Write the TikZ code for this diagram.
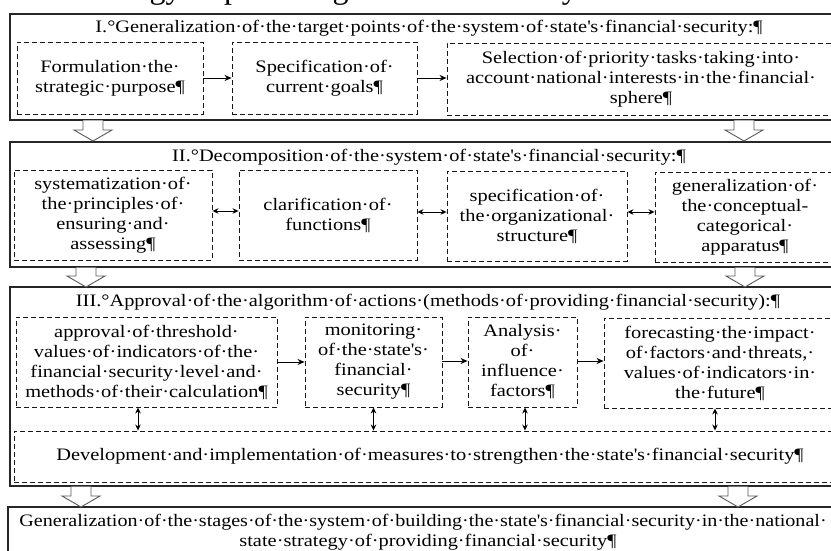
\documentclass[tikz,border=0pt]{standalone}
\usepackage{fontspec}
\usepackage{graphicx}
\setmainfont{Liberation Serif}[FakeStretch=1.165]
\newfontfamily\headfont{Liberation Serif}
\usetikzlibrary{arrows.meta}
\newcommand\qs{\textquotesingle}
\tikzset{
  txt/.style={font=\fontsize{17.5}{20}\selectfont, align=center, inner sep=0pt, text=black},
  outerbox/.style={draw=black!85, line width=1.2pt},
  dbox/.style={txt, draw=black!90, line width=0.9pt, dash pattern=on 5pt off 3pt},
  arr/.style={-{Stealth[length=7pt,width=6pt]}, line width=0.9pt},
  darr/.style={{Stealth[length=6pt,width=5.5pt]}-{Stealth[length=6pt,width=5.5pt]}, line width=0.9pt},
  blk/.style={draw=black!65, fill=white, line width=0.9pt, line join=miter},
}
\newcommand\blockarrow[3]{%
  \fill[white] (#1-10,#2) -- (#1-10,#3-11) -- (#1-19,#3-11) -- (#1,#3) -- (#1+19,#3-11) -- (#1+10,#3-11) -- (#1+10,#2) -- cycle;
  \draw[blk, fill=none] (#1-10,#2) -- (#1-10,#3-11) -- (#1-19,#3-11) -- (#1,#3) -- (#1+19,#3-11) -- (#1+10,#3-11) -- (#1+10,#2);
}
\begin{document}
\begin{tikzpicture}[x=1pt,y=-1pt]
\useasboundingbox (0,0) rectangle (831,551);
\fill[white] (0,0) rectangle (831,551);
\begin{scope}
\clip (0,0) rectangle (831,551);
% cut-off heading above the picture
\node[anchor=base west, inner sep=0pt, font=\headfont\fontsize{32}{38}\selectfont] (head) at (80,-1.5) {strategy of providing financial security};

% outer frames
\node[outerbox, minimum width=838pt, minimum height=106pt] (S1) at (429,67) {};
\node[outerbox, minimum width=838pt, minimum height=125pt] (S2) at (429,204.5) {};
\node[outerbox, minimum width=838pt, minimum height=199pt] (S3) at (429,386.5) {};
\node[outerbox, minimum width=840pt, minimum height=68pt] (S4) at (428,541) {};

% titles
\node[txt] (T1) at (429,28) {I.°Generalization·of·the·target·points·of·the·system·of·state\qs s·financial·security:¶};
\node[txt] (T2) at (429,157) {II.°Decomposition·of·the·system·of·state\qs s·financial·security:¶};
\node[txt] (T3) at (428,302) {III.°Approval·of·the·algorithm·of·actions·(methods·of·providing·financial·security):¶};

% stage I
\node[dbox, minimum width=186pt, minimum height=72pt] (A) at (110,78) {Formulation·the·\\strategic·purpose¶};
\node[dbox, minimum width=185pt, minimum height=72pt] (B) at (324.5,78) {Specification·of·\\current·goals¶};
\node[dbox, minimum width=388pt, minimum height=72pt] (C) at (641,79) {Selection·of·priority·tasks·taking·into·\\account·national·interests·in·the·financial·\\sphere¶};
\draw[arr] (A.east) -- (B.west);
\draw[arr] (B.east) -- (B.east -| C.west);

% stage II
\node[dbox, minimum width=198pt, minimum height=90pt] (D) at (113,215) {systematization·of·\\the·principles·of·\\ensuring·and·\\assessing¶};
\node[dbox, minimum width=178pt, minimum height=90pt] (E) at (328,215) {clarification·of·\\functions¶};
\node[dbox, minimum width=180pt, minimum height=90pt] (F) at (537,216) {specification·of·\\the·organizational·\\structure¶};
\node[dbox, minimum width=180pt, minimum height=90pt] (G) at (745,217) {generalization·of·\\the·conceptual-\\categorical·\\apparatus¶};
\draw[darr] ([yshift=4pt]D.east) -- ([yshift=4pt]D.east -| E.west);
\draw[darr] ([yshift=3pt]E.east) -- ([yshift=3pt]E.east -| F.west);
\draw[darr] ([yshift=4pt]F.east) -- ([yshift=4pt]F.east -| G.west);

% stage III
\node[dbox, minimum width=261pt, minimum height=90pt] (H) at (146.5,362) {approval·of·threshold·\\values·of·indicators·of·the·\\financial·security·level·and·\\methods·of·their·calculation¶};
\node[dbox, minimum width=137pt, minimum height=90pt] (I) at (373.5,362) {monitoring·\\of·the·state\qs s·\\financial·\\security¶};
\node[dbox, minimum width=109pt, minimum height=90pt] (J) at (522.5,362) {Analysis·\\of·\\influence·\\factors¶};
\node[dbox, minimum width=232pt, minimum height=90pt] (K) at (720,363) {forecasting·the·impact·\\of·factors·and·threats,·\\values·of·indicators·in·\\the·future¶};
\node[dbox, minimum width=832pt, minimum height=51pt] (L) at (430,456.5) {Development·and·implementation·of·measures·to·strengthen·the·state\qs s·financial·security¶};
\draw[arr] (H.east) -- (H.east -| I.west);
\draw[arr] ([yshift=1pt]I.east) -- ([yshift=1pt]I.east -| J.west);
\draw[arr] ([yshift=1pt]J.east) -- ([yshift=1pt]J.east -| K.west);
\draw[darr] ([xshift=-8.5pt]H.south) -- ([xshift=-8.5pt]H.south |- L.north);
\draw[darr] (I.south) -- (I.south |- L.north);
\draw[darr] ([xshift=2.5pt]J.south) -- ([xshift=2.5pt]J.south |- L.north);
\draw[darr] ([xshift=-5pt]K.south) -- ([xshift=-5pt]K.south |- L.north);

% final
\node[txt] (M) at (423,532) {\scalebox{0.985}[1]{Generalization·of·the·stages·of·the·system·of·building·the·state\qs s·financial·security·in·the·national·}\\\hspace*{10pt}state·strategy·of·providing·financial·security¶};

% block arrows between stages
\blockarrow{93}{120.5}{141}
\blockarrow{744}{120.5}{141}
\blockarrow{86}{267.5}{287}
\blockarrow{745}{267.5}{287}
\blockarrow{81}{486.5}{507}
\blockarrow{738}{486.5}{507}
\end{scope}
\end{tikzpicture}
\end{document}
